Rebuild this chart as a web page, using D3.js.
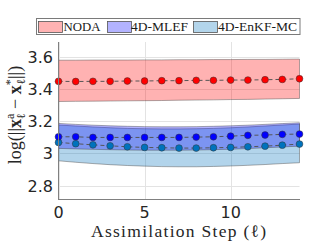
<!DOCTYPE html>
<html>
<head>
<meta charset="utf-8">
<script src="https://cdn.jsdelivr.net/npm/d3@7"></script>
<style>
  body { margin: 0; background: #fff; }
  svg { display: block; }
  .serif { font-family: "Liberation Serif", "Times New Roman", Times, "DejaVu Serif", serif; font-weight: normal; }
</style>
</head>
<body>
<div id="chart"></div>
<script>
// assimilation steps
const steps = [0, 1, 2, 3, 4, 5, 6, 7, 8, 9, 10, 11, 12, 13, 14];

// NODA
const nodaMean  = [3.447, 3.446, 3.447, 3.447, 3.449, 3.449, 3.451, 3.451, 3.453, 3.453, 3.455, 3.455, 3.457, 3.459, 3.463];
const nodaUpper = [3.578, 3.578, 3.579, 3.579, 3.579, 3.580, 3.580, 3.581, 3.581, 3.582, 3.582, 3.583, 3.583, 3.584, 3.585];
const nodaLower = [3.322, 3.323, 3.324, 3.325, 3.326, 3.327, 3.328, 3.330, 3.331, 3.332, 3.334, 3.335, 3.337, 3.339, 3.341];

// 4D-MLEF
const mlefMean  = [3.103, 3.103, 3.099, 3.099, 3.099, 3.099, 3.099, 3.099, 3.101, 3.103, 3.107, 3.112, 3.114, 3.118, 3.120];
const mlefUpper = [3.186, 3.180, 3.175, 3.171, 3.168, 3.166, 3.165, 3.165, 3.166, 3.168, 3.171, 3.175, 3.180, 3.185, 3.190];
const mlefLower = [3.031, 3.028, 3.025, 3.023, 3.021, 3.020, 3.020, 3.020, 3.021, 3.023, 3.026, 3.030, 3.035, 3.040, 3.045];

// 4D-EnKF-MC
const enkfMean  = [3.068, 3.060, 3.053, 3.047, 3.041, 3.037, 3.035, 3.033, 3.033, 3.035, 3.037, 3.041, 3.045, 3.051, 3.058];
const enkfUpper = [3.176, 3.170, 3.164, 3.159, 3.155, 3.153, 3.152, 3.152, 3.153, 3.155, 3.159, 3.164, 3.170, 3.176, 3.182];
const enkfLower = [2.954, 2.945, 2.937, 2.930, 2.925, 2.921, 2.918, 2.917, 2.917, 2.919, 2.922, 2.926, 2.931, 2.937, 2.942];

const xTicks = [0, 5, 10];
const yTicks = [2.8, 3, 3.2, 3.4, 3.6];
const yTickLabels = ['2.8', '3', '3.2', '3.4', '3.6'];
const legendNames = ['NODA', '4D-MLEF', '4D-EnKF-MC'];

const width = 332, height = 250;
const svg = d3.select('#chart').append('svg')
  .attr('width', width)
  .attr('height', height);

const x = d3.scaleLinear().domain([0, 14]).range([58.5, 299.5]);
const y = d3.scaleLinear().domain([2.714, 3.691]).range([199.5, 42]);

// grid
svg.append('g').selectAll('line.gy')
  .data(yTicks).enter().append('line')
  .attr('x1', x(0)).attr('x2', x(14))
  .attr('y1', d => Math.round(y(d)) + 0.5).attr('y2', d => Math.round(y(d)) + 0.5)
  .style('stroke', '#e3e3e3').style('stroke-width', 1);
svg.append('g').selectAll('line.gx')
  .data(xTicks).enter().append('line')
  .attr('x1', d => Math.round(x(d)) + 0.5).attr('x2', d => Math.round(x(d)) + 0.5)
  .attr('y1', 42).attr('y2', 199.5)
  .style('stroke', '#e3e3e3').style('stroke-width', 1);

// shaded bands
function band(upper, lower, fill) {
  const pts = steps.map((s, i) => [x(s), y(upper[i])])
    .concat(steps.slice().reverse().map((s, j) => [x(s), y(lower[steps.length - 1 - j])]));
  svg.append('path')
    .attr('d', d3.line()(pts) + 'Z')
    .style('fill', fill)
    .style('fill-opacity', 0.3)
    .style('stroke', '#444')
    .style('stroke-opacity', 0.55)
    .style('stroke-width', 0.8);
}
band(nodaUpper, nodaLower, '#ff0000');
band(enkfUpper, enkfLower, '#0072bd');
band(mlefUpper, mlefLower, '#0000ff');

// mean lines and markers
function series(mean, color) {
  svg.append('path')
    .datum(mean)
    .attr('d', d3.line().x((d, i) => x(steps[i])).y(d => y(d)))
    .style('fill', 'none')
    .style('stroke', '#555')
    .style('stroke-width', 1)
    .style('stroke-dasharray', '4,3');
  svg.append('g').selectAll('circle')
    .data(mean).enter().append('circle')
    .attr('cx', (d, i) => x(steps[i]))
    .attr('cy', d => y(d))
    .attr('r', 3.4)
    .style('fill', color)
    .style('stroke', '#333')
    .style('stroke-width', 0.5);
}
series(nodaMean, '#ff0000');
series(enkfMean, '#0072bd');
series(mlefMean, '#0000ff');

// axes lines
svg.append('line')
  .attr('x1', 58.5).attr('x2', 58.5).attr('y1', 42).attr('y2', 199.5)
  .style('stroke', '#808080').style('stroke-width', 1);
svg.append('line')
  .attr('x1', 58).attr('x2', 300).attr('y1', 199.5).attr('y2', 199.5)
  .style('stroke', '#808080').style('stroke-width', 1);

// tick labels
svg.append('g').selectAll('text')
  .data(yTicks).enter().append('text')
  .attr('x', 53)
  .attr('y', d => y(d) + 6)
  .attr('text-anchor', 'end')
  .style('font-family', 'DejaVu Sans')
  .style('font-size', '16px')
  .style('fill', '#262626')
  .text((d, i) => yTickLabels[i]);
svg.append('g').selectAll('text')
  .data(xTicks).enter().append('text')
  .attr('x', d => x(d))
  .attr('y', 218)
  .attr('text-anchor', 'middle')
  .style('font-family', 'DejaVu Sans')
  .style('font-size', '16px')
  .style('fill', '#262626')
  .text(d => d);

// axis titles
svg.append('text')
  .attr('class', 'serif')
  .attr('x', 178.5)
  .attr('y', 237)
  .attr('text-anchor', 'middle')
  .attr('textLength', 175)
  .attr('lengthAdjust', 'spacing')
  .style('font-size', '17.5px')
  .style('fill', '#262626')
  .text('Assimilation Step (\u2113)');

const yl = svg.append('text')
  .attr('class', 'serif')
  .attr('transform', 'translate(21,115) rotate(-90)')
  .attr('text-anchor', 'middle')
  .style('font-size', '18px')
  .style('fill', '#262626');
yl.append('tspan').text('log(||');
yl.append('tspan').style('font-weight', 'bold').text('x');
yl.append('tspan').attr('dy', -7).style('font-size', '12px').text('a');
yl.append('tspan').attr('dx', -5.5).attr('dy', 11).style('font-size', '12px').text('\u2113');
yl.append('tspan').attr('dy', -4).text(' \u2212 ');
yl.append('tspan').style('font-weight', 'bold').text('x');
yl.append('tspan').attr('dy', -7).style('font-size', '12px').text('*');
yl.append('tspan').attr('dx', -5.5).attr('dy', 11).style('font-size', '12px').text('\u2113');
yl.append('tspan').attr('dy', -4).text('||)');

// legend
const legendFill = ['#ffb3b3', '#b3b3ff', '#b3d5eb'];
const legendSwatchX = [38.5, 107.5, 193.5];
const legendTextX = [63.5, 131, 218];
const legendTextW = [37, 57, 79];
svg.append('rect')
  .attr('x', 36.5).attr('y', 18.5).attr('width', 263.5).attr('height', 16)
  .style('fill', '#fff').style('stroke', '#7a7a7a').style('stroke-width', 1);
legendNames.forEach((name, i) => {
  svg.append('rect')
    .attr('x', legendSwatchX[i]).attr('y', 21.5).attr('width', 24).attr('height', 11)
    .style('fill', legendFill[i]).style('stroke', '#555').style('stroke-width', 0.8);
  svg.append('text')
    .attr('class', 'serif')
    .attr('x', legendTextX[i]).attr('y', 30.5)
    .attr('textLength', legendTextW[i])
    .attr('lengthAdjust', 'spacingAndGlyphs')
    .style('font-size', '13.5px')
    .style('fill', '#1a1a1a')
    .text(name);
});
</script>
</body>
</html>
